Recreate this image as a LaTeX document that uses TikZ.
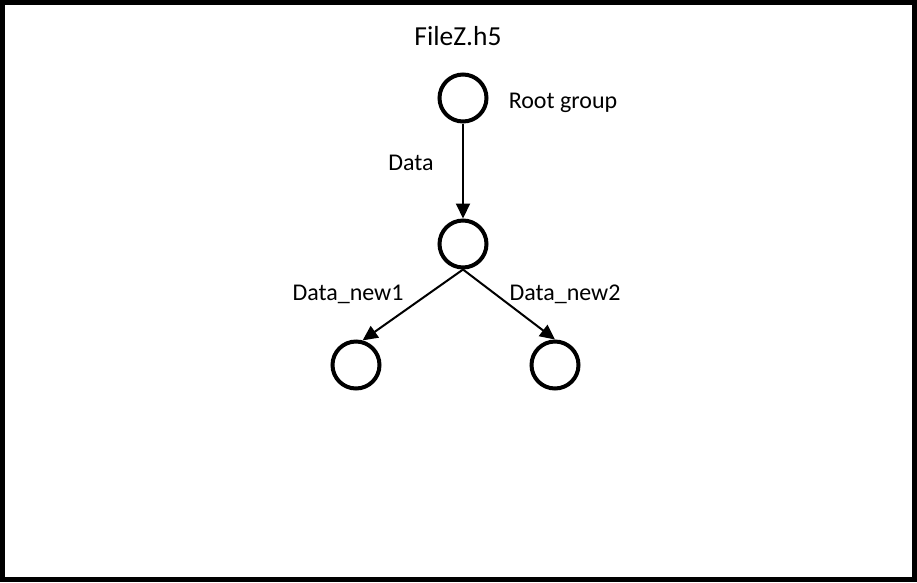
\documentclass[tikz,border=0pt]{standalone}
\usepackage{fontspec}
\setmainfont{Carlito}
\usetikzlibrary{arrows.meta}
\begin{document}
\begin{tikzpicture}[x=1pt,y=-1pt,
  grp/.style={circle,draw=black,line width=4pt,minimum size=47pt,inner sep=0pt},
  link/.style={line width=2pt,-{Triangle[length=15pt,width=14pt]}},
  lbl/.style={font=\fontsize{24}{28}\selectfont,anchor=base,inner sep=0pt},
  ttl/.style={font=\fontsize{27.5}{32}\selectfont,anchor=base,inner sep=0pt}]
\useasboundingbox (0,0) rectangle (917,582);
\draw[line width=5pt] (2.5,2.5) rectangle (914.5,579.5);
\node[ttl] (title) at (458,45) {FileZ.h5};
\node[grp] (root) at (463,98) {};
\node[grp] (mid) at (463,244) {};
\node[grp] (left) at (356,365) {};
\node[grp] (right) at (555,365) {};
\node[lbl] (rootlbl) at (563,108) {Root group};
\node[lbl] (datalbl) at (411,170) {Data};
\node[lbl] (n1lbl) at (348,300) {Data\_new1};
\node[lbl] (n2lbl) at (565,300) {Data\_new2};
\draw[link] (root) -- (mid);
\draw[link] (mid.south) -- (left.75);
\draw[link] (mid.south) -- (right.north);
\end{tikzpicture}
\end{document}
